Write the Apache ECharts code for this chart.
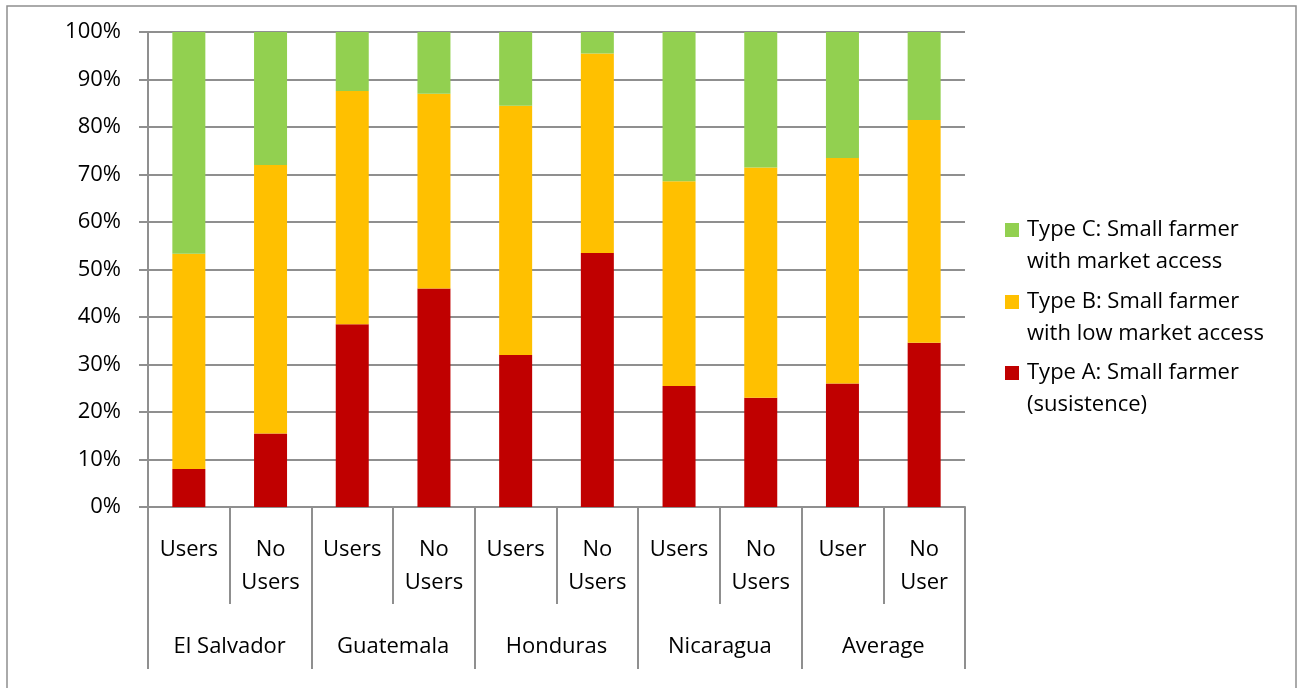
<!DOCTYPE html>
<html>
<head>
<meta charset="utf-8">
<script src="https://cdn.jsdelivr.net/npm/echarts@6/dist/echarts.min.js"></script>
<style>
  html, body { margin: 0; padding: 0; background: #fff; }
  #chart { width: 1302px; height: 688px; }
</style>
</head>
<body>
<div id="chart"></div>
<script>
// 数据
var categories = ['Users', 'No\nUsers', 'Users', 'No\nUsers', 'Users', 'No\nUsers', 'Users', 'No\nUsers', 'User', 'No\nUser'];
var groups = ['El Salvador', 'Guatemala', 'Honduras', 'Nicaragua', 'Average'];
var typeA = [8.0, 15.5, 38.5, 46.0, 32.0, 53.5, 25.5, 23.0, 26.0, 34.6];
var typeB = [45.3, 56.5, 49.1, 41.0, 52.5, 42.0, 43.1, 48.5, 47.5, 46.9];
var typeC = [46.7, 28.0, 12.4, 13.0, 15.5, 4.5, 31.4, 28.5, 26.5, 18.5];
var seriesNames = ['Type A: Small farmer\n(susistence)', 'Type B: Small farmer\nwith low market access', 'Type C: Small farmer\nwith market access'];

var font = 'Open Sans';
var fs = 22;
var gray = '#8f8f8f';

var chart = echarts.init(document.getElementById('chart'));

// 图例：每项单独放；前面加一个空行，让色块对齐第一行文字
function legendItem(name, top) {
  return {
    data: [name],
    left: 1005,
    top: top,
    padding: 0,
    orient: 'vertical',
    itemWidth: 14,
    itemHeight: 14,
    icon: 'rect',
    selectedMode: false,
    formatter: function (n) { return '\n' + n; },
    textStyle: {
      fontFamily: font,
      fontSize: fs,
      color: '#000',
      lineHeight: 32,
      padding: [0, 0, 0, 3]
    }
  };
}

var option = {
  animation: false,
  textStyle: { fontFamily: font },
  color: ['#C00000', '#FFC000', '#92D050'],
  graphic: [{
    type: 'rect',
    shape: { x: 7, y: 6, width: 1289, height: 700 },
    style: { fill: 'none', stroke: gray, lineWidth: 1.5 },
    silent: true
  }],
  legend: [
    legendItem(seriesNames[2], 182),
    legendItem(seriesNames[1], 254),
    legendItem(seriesNames[0], 325)
  ],
  grid: { left: 148, right: 337, top: 32, bottom: 181 },
  xAxis: [{
    type: 'category',
    data: categories,
    axisLine: { show: true, lineStyle: { color: gray, width: 2 } },
    axisTick: { show: true, interval: 0, length: 97, lineStyle: { color: gray, width: 2 } },
    axisLabel: {
      interval: 0,
      margin: 26,
      fontFamily: font,
      fontSize: fs,
      color: '#000',
      lineHeight: 33,
      verticalAlign: 'top'
    }
  }, {
    type: 'category',
    data: groups,
    position: 'bottom',
    offset: 0,
    axisLine: { show: false },
    axisTick: { show: true, interval: 0, length: 162, lineStyle: { color: gray, width: 2 } },
    axisLabel: {
      interval: 0,
      margin: 127,
      fontFamily: font,
      fontSize: fs,
      color: '#000',
      lineHeight: 26,
      verticalAlign: 'top'
    }
  }],
  yAxis: {
    type: 'value',
    min: 0,
    max: 100,
    interval: 10,
    axisLine: { show: true, lineStyle: { color: gray, width: 2 } },
    axisTick: { show: true, length: 9, lineStyle: { color: gray, width: 2 } },
    axisLabel: {
      formatter: '{value}%',
      margin: 27,
      fontFamily: font,
      fontSize: fs,
      color: '#000'
    },
    splitLine: { lineStyle: { color: gray, width: 2 } }
  },
  series: [
    { name: seriesNames[0], type: 'bar', stack: 'all', barWidth: 33, data: typeA },
    { name: seriesNames[1], type: 'bar', stack: 'all', barWidth: 33, data: typeB },
    { name: seriesNames[2], type: 'bar', stack: 'all', barWidth: 33, data: typeC }
  ]
};

chart.setOption(option);
</script>
</body>
</html>
